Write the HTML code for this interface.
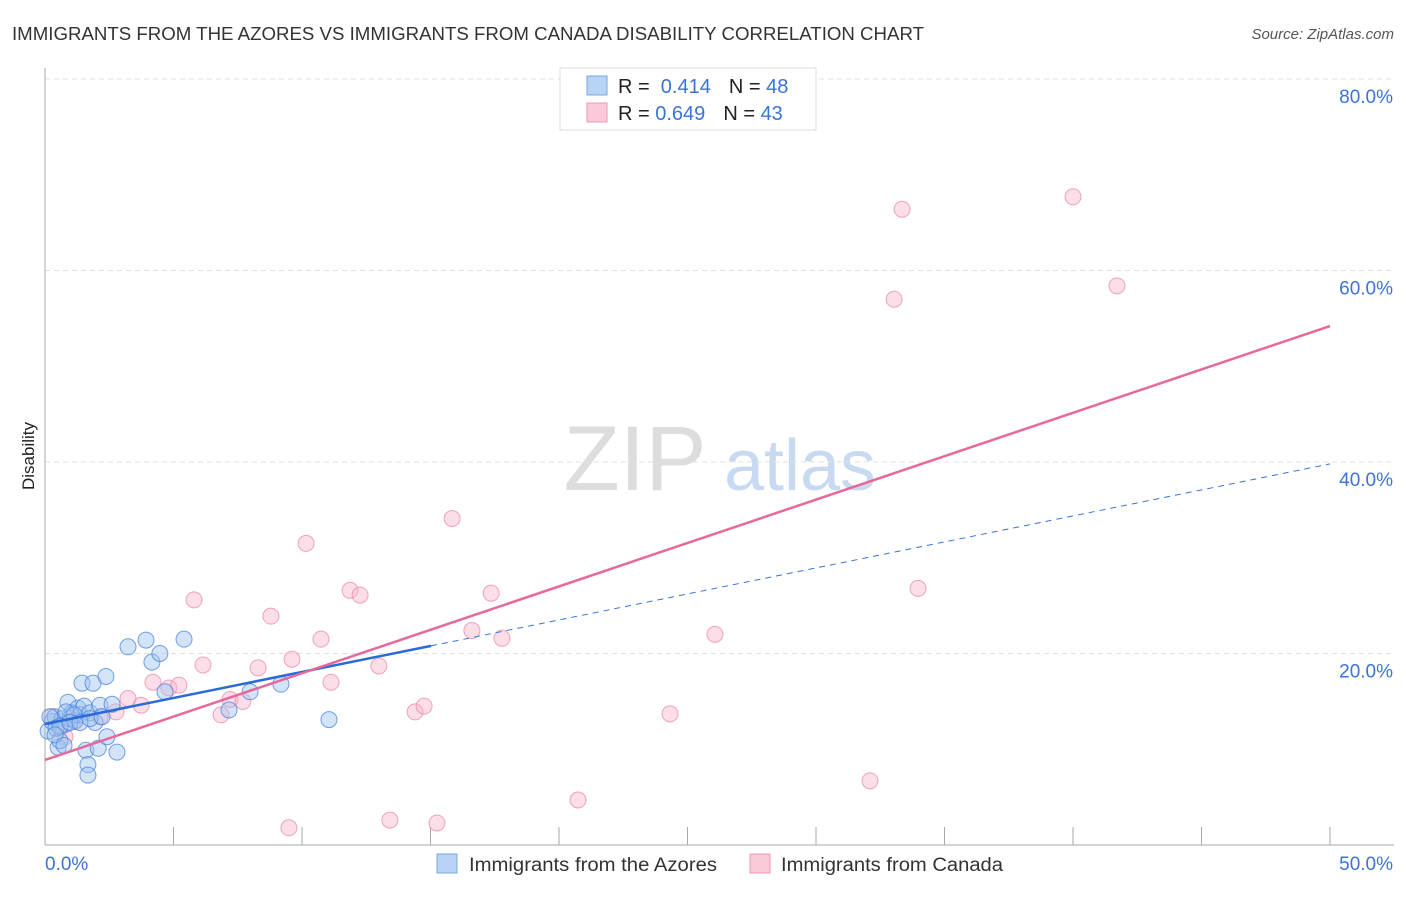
<!DOCTYPE html>
<html><head><meta charset="utf-8"><style>
body{margin:0;background:#fff;font-family:"Liberation Sans",sans-serif;}
svg text{font-family:"Liberation Sans",sans-serif;}
</style></head><body>
<svg id="chart" width="1406" height="892">
<text x="12" y="40" font-size="18" fill="#333" textLength="912" lengthAdjust="spacingAndGlyphs">IMMIGRANTS FROM THE AZORES VS IMMIGRANTS FROM CANADA DISABILITY CORRELATION CHART</text>
<text x="1394" y="39" font-size="15" fill="#555" text-anchor="end" font-style="italic">Source: ZipAtlas.com</text>
<text x="34" y="456" font-size="17" fill="#222" text-anchor="middle" transform="rotate(-90 34 456)">Disability</text>
<g><text x="635" y="490" font-size="92" fill="#ddd" text-anchor="middle" font-family="Liberation Serif">ZIP</text><text x="800" y="490" font-size="72" fill="#c8daf2" text-anchor="middle">atlas</text></g>
<g id="grid"></g><g id="marks"></g>
<g>
<rect x="560" y="68" width="256" height="62" fill="#fff" stroke="#ddd"/>
<rect x="587" y="76" width="20" height="19" fill="#b7d3f5" stroke="#7aa7e0"/>
<rect x="587" y="103" width="20" height="19" fill="#fcc9d8" stroke="#ee98b2"/>
<text x="618" y="93" font-size="20" fill="#222">R = <tspan fill="#3a74d8">&#160;0.414</tspan><tspan dx="18">N = </tspan><tspan fill="#3a74d8">48</tspan></text>
<text x="618" y="120" font-size="20" fill="#222">R = <tspan fill="#3a74d8">0.649</tspan><tspan dx="18">N = </tspan><tspan fill="#3a74d8">43</tspan></text>
</g>
<g>
<rect x="437" y="854" width="20" height="19" fill="#b7d3f5" stroke="#7aa7e0"/>
<text x="469" y="871" font-size="19" fill="#333" textLength="248" lengthAdjust="spacingAndGlyphs">Immigrants from the Azores</text>
<rect x="750" y="854" width="20" height="19" fill="#fcc9d8" stroke="#ee98b2"/>
<text x="781" y="871" font-size="19" fill="#333" textLength="222" lengthAdjust="spacingAndGlyphs">Immigrants from Canada</text>
</g>
</svg>
<script>
const yTicks=[20,40,60,80];
const xTickLabels=["0.0%","50.0%"];
const azoresX=[0.12,0.27,0.39,0.51,0.58,0.66,0.78,0.89,0.97,1.05,1.17,1.28,1.36,1.44,1.52,1.59,1.67,1.67,1.75,1.87,1.95,2.07,2.14,2.37,2.41,2.61,2.80,3.23,3.93,4.16,4.47,4.67,5.41,7.16,7.98,9.18,11.05,0.19,0.43,0.82,1.13,0.58,0.97,1.36,1.75,2.22,0.39,0.74];
const azoresY=[11.9,12.9,13.4,10.2,10.9,13.2,12.6,14.9,13.2,13.8,13.0,14.3,13.6,16.9,14.5,9.9,8.4,7.3,13.8,16.9,12.8,10.1,14.6,17.6,11.3,14.7,9.7,20.7,21.4,19.1,20.0,16.0,21.5,14.1,16.0,16.8,13.1,13.4,12.2,13.9,13.6,12.4,12.8,12.8,13.2,13.4,11.5,10.4];
const canadaX=[33.35,40.0,33.04,41.71,15.84,10.16,5.8,11.87,12.26,17.36,8.79,33.97,16.61,17.78,26.07,10.74,9.61,6.15,12.99,8.29,4.2,4.82,5.21,11.13,3.23,3.74,2.76,7.2,7.7,6.85,14.4,14.75,24.32,32.1,20.74,13.42,15.25,9.49,2.14,0.58,1.17,0.27,0.78];
const canadaY=[66.4,67.7,57.0,58.4,34.1,31.5,25.6,26.6,26.1,26.3,23.9,26.8,22.4,21.6,22.0,21.5,19.4,18.8,18.7,18.5,17.0,16.4,16.7,17.0,15.3,14.6,13.9,15.2,15.0,13.6,13.9,14.5,13.7,6.7,4.7,2.6,2.3,1.8,13.4,12.2,12.9,13.4,11.3];
const azoresFit=[12.64,39.8]; const canadaFit=[8.88,54.2]; const azoresSolidEnd=15.02;
const NS="http://www.w3.org/2000/svg";
const X=v=>45+v/50*1285, Y=v=>845-v*9.575;
function el(t,a,p){const e=document.createElementNS(NS,t);for(const k in a)e.setAttribute(k,a[k]);p.appendChild(e);return e;}
const g=document.getElementById('grid'),m=document.getElementById('marks');
yTicks.forEach(t=>{
 const l=el('line',{x1:45,x2:1394,y1:Y(t),y2:Y(t),stroke:'#e0e0e0','stroke-dasharray':'5,4'},g);
 
 
 const tx=el('text',{x:1393,y:Y(t)+24,'font-size':19,fill:'#3a74d8','text-anchor':'end'},g);tx.textContent=t+'.0%';
 
 
});
const ax=el('line',{x1:45,x2:45,y1:68,y2:845,stroke:'#aaa'},g);


const bx=el('line',{x1:45,x2:1394,y1:845,y2:845,stroke:'#aaa'},g);


for(let i=1;i<=10;i++){const t=el('line',{x1:X(i*5),x2:X(i*5),y1:827,y2:845,stroke:'#aaa'},g);
 
 }
const l0=el('text',{x:45,y:870,'font-size':19,fill:'#3a74d8'},g);l0.textContent=xTickLabels[0];


const l1=el('text',{x:1393,y:870,'font-size':19,fill:'#3a74d8','text-anchor':'end'},g);l1.textContent=xTickLabels[1];


canadaX.forEach((x,i)=>{const c=el('circle',{cx:X(x),cy:Y(canadaY[i]),r:8,fill:'rgba(248,182,204,0.45)',stroke:'rgba(232,130,162,0.7)','stroke-width':1},m);
 
 });
azoresX.forEach((x,i)=>{const c=el('circle',{cx:X(x),cy:Y(azoresY[i]),r:8,fill:'rgba(160,196,240,0.45)',stroke:'rgba(70,130,220,0.75)','stroke-width':1},m);
 
 });
const fa=v=>azoresFit[0]+(azoresFit[1]-azoresFit[0])*v/50;
const d=el('line',{x1:X(azoresSolidEnd),y1:Y(fa(azoresSolidEnd)),x2:X(50),y2:Y(azoresFit[1]),stroke:'#3a74d8','stroke-width':1,'stroke-dasharray':'6,5'},m);


const s=el('line',{x1:X(0),y1:Y(azoresFit[0]),x2:X(azoresSolidEnd),y2:Y(fa(azoresSolidEnd)),stroke:'#2a6ad8','stroke-width':2.5},m);


const p=el('line',{x1:X(0),y1:Y(canadaFit[0]),x2:X(50),y2:Y(canadaFit[1]),stroke:'#e8689a','stroke-width':2.5},m);


</script>
</body></html>
